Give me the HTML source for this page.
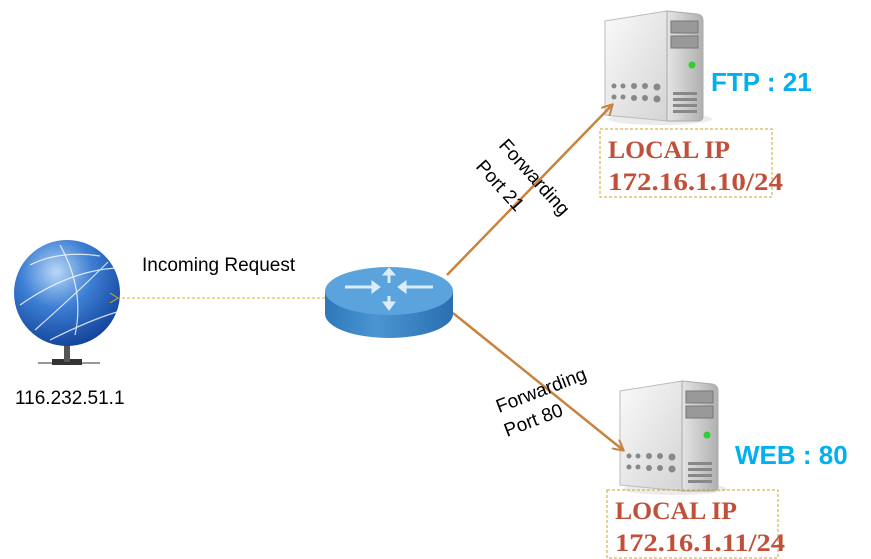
<!DOCTYPE html>
<html><head><meta charset="utf-8"><style>
html,body{margin:0;padding:0;background:#fff;}
svg{display:block;}
</style></head><body>
<svg width="871" height="559" viewBox="0 0 871 559" xmlns="http://www.w3.org/2000/svg">
<defs>
<radialGradient id="gl" cx="0.4" cy="0.3" r="0.75">
<stop offset="0" stop-color="#b9d8f7"/><stop offset="0.45" stop-color="#3d7fd4"/><stop offset="1" stop-color="#0f3f96"/>
</radialGradient>
<linearGradient id="rb" x1="0" x2="1">
<stop offset="0" stop-color="#2e78b8"/><stop offset="0.4" stop-color="#4a95d2"/><stop offset="1" stop-color="#2a6fb0"/>
</linearGradient>
<linearGradient id="sf" x1="0" x2="1" y1="0" y2="1">
<stop offset="0" stop-color="#fafafa"/><stop offset="1" stop-color="#d4d4d4"/>
</linearGradient>
<linearGradient id="ss" x1="0" x2="1">
<stop offset="0" stop-color="#e4e4e4"/><stop offset="1" stop-color="#b0b0b0"/>
</linearGradient>
<marker id="ah" markerWidth="12" markerHeight="12" refX="10" refY="6" orient="auto" markerUnits="userSpaceOnUse">
<path d="M0,0 L11,6 L0,12" fill="none" stroke="#c8833e" stroke-width="2"/>
</marker>
<marker id="ay" markerWidth="10" markerHeight="10" refX="1" refY="5" orient="auto" markerUnits="userSpaceOnUse">
<path d="M9,0 L1,5 L9,10" fill="none" stroke="#d4b020" stroke-width="1"/>
</marker>
<g id="srv">
<ellipse cx="55" cy="108" rx="52" ry="6" fill="#ddd" opacity="0.6"/>
<path d="M0,10 L62,0 L62,110 L0,104 Z" fill="url(#sf)" stroke="#bbb"/>
<path d="M62,0 L92,3 Q98,4 98,10 L98,105 Q98,110 92,110 L62,110 Z" fill="url(#ss)" stroke="#aaa"/>
<rect x="66" y="10" width="27" height="12" fill="#999" stroke="#777"/>
<rect x="66" y="25" width="27" height="12" fill="#999" stroke="#777"/>
<circle cx="87" cy="54" r="3.5" fill="#3c3"/>
<g fill="#888"><rect x="68" y="81" width="24" height="3"/><rect x="68" y="87" width="24" height="3"/><rect x="68" y="93" width="24" height="3"/><rect x="68" y="99" width="24" height="3"/></g>
<g fill="#888">
<circle cx="9" cy="75" r="2.5"/><circle cx="18" cy="75" r="2.5"/><circle cx="29" cy="75" r="3"/><circle cx="40" cy="75" r="3"/><circle cx="52" cy="76" r="3.5"/>
<circle cx="9" cy="86" r="2.5"/><circle cx="18" cy="86" r="2.5"/><circle cx="29" cy="87" r="3"/><circle cx="40" cy="87" r="3"/><circle cx="52" cy="88" r="3.5"/>
</g>
</g>
</defs>
<!-- globe -->
<rect x="38" y="362" width="62" height="2" fill="#999"/>
<rect x="52" y="359" width="30" height="6" fill="#333"/>
<rect x="64" y="344" width="6" height="18" fill="#555"/>
<circle cx="67" cy="293" r="53" fill="url(#gl)"/>
<g stroke="#fff" stroke-width="1.2" fill="none" opacity="0.8">
<path d="M20,305 Q70,270 118,268"/><path d="M35,330 Q80,290 108,262"/><path d="M50,340 Q90,320 117,312"/><path d="M60,245 Q85,290 75,335"/><path d="M30,265 Q60,250 100,256"/>
</g>
<text x="15" y="404" font-family="Liberation Sans, sans-serif" font-size="19" fill="#000">116.232.51.1</text>
<!-- dashed -->
<line x1="325" y1="298" x2="118" y2="298" stroke="#d4b020" stroke-width="1" stroke-dasharray="3,2" marker-end="url(#ay)"/>
<text x="142" y="271" font-family="Liberation Sans, sans-serif" font-size="19" fill="#000">Incoming Request</text>
<!-- servers -->
<use href="#srv" x="605" y="11"/>
<use href="#srv" x="620" y="381"/>
<!-- lines -->
<line x1="447" y1="275" x2="612" y2="105" stroke="#c8833e" stroke-width="2.5" marker-end="url(#ah)"/>
<line x1="453" y1="313" x2="623" y2="450" stroke="#c8833e" stroke-width="2.5" marker-end="url(#ah)"/>
<!-- router -->
<path d="M325,291 L325,314 A64,24 0 0 0 453,314 L453,291 Z" fill="url(#rb)"/>
<ellipse cx="389" cy="291" rx="64" ry="24" fill="#5aa3dc"/>
<g stroke="#dcecf8" stroke-width="3" fill="#dcecf8">
<line x1="345" y1="287" x2="372" y2="287"/><line x1="406" y1="287" x2="433" y2="287"/>
<line x1="389" y1="270" x2="389" y2="283"/><line x1="389" y1="296" x2="389" y2="308"/>
<path d="M372,281 L380,287 L372,293Z" stroke-width="1"/><path d="M406,281 L398,287 L406,293Z" stroke-width="1"/>
<path d="M383,275 L389,268 L395,275Z" stroke-width="1"/><path d="M383,302 L389,310 L395,302Z" stroke-width="1"/>
</g>
<!-- labels -->
<g font-family="Liberation Sans, sans-serif" font-size="19" fill="#000">
<text transform="translate(498,146) rotate(48)">Forwarding</text>
<text transform="translate(475,167) rotate(48)">Port 21</text>
<text transform="translate(499,413) rotate(-21)">Forwarding</text>
<text transform="translate(507,437) rotate(-21)">Port 80</text>
</g>
<text x="711" y="91" font-family="Liberation Sans, sans-serif" font-weight="bold" font-size="26" fill="#00b0f0">FTP : 21</text>
<text x="735" y="464" font-family="Liberation Sans, sans-serif" font-weight="bold" font-size="26" fill="#00b0f0">WEB : 80</text>
<rect x="600" y="129" width="172" height="68" fill="none" stroke="#c9a827" stroke-dasharray="3,2"/>
<rect x="607" y="490" width="171" height="68" fill="none" stroke="#c9a827" stroke-dasharray="3,2"/>
<g font-family="Liberation Serif, serif" font-weight="bold" font-size="25" fill="#c0503a">
<text x="608" y="158" textLength="122" lengthAdjust="spacingAndGlyphs">LOCAL IP</text>
<text x="608" y="190" textLength="175" lengthAdjust="spacingAndGlyphs">172.16.1.10/24</text>
<text x="615" y="519" textLength="122" lengthAdjust="spacingAndGlyphs">LOCAL IP</text>
<text x="615" y="551" textLength="170" lengthAdjust="spacingAndGlyphs">172.16.1.11/24</text>
</g>
</svg>
</body></html>
